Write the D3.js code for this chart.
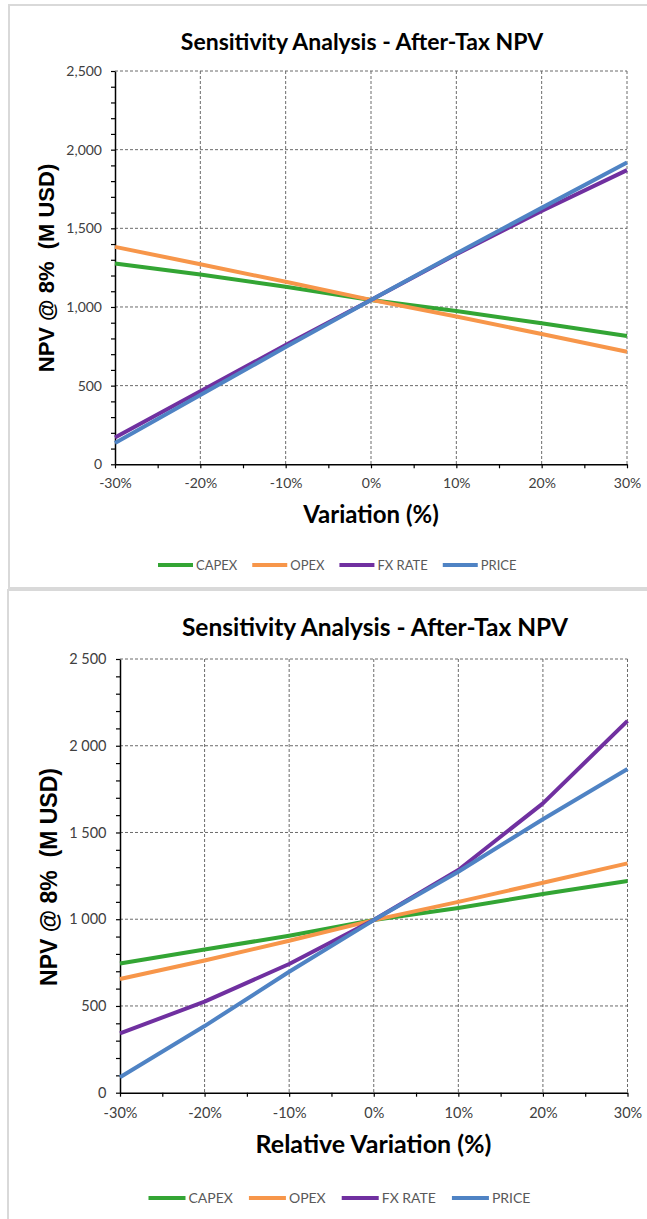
<!DOCTYPE html>
<html>
<head>
<meta charset="utf-8">
<script src="https://cdn.jsdelivr.net/npm/d3@7"></script>
<style>
  body { margin: 0; background: #fff; }
  svg { display: block; }
</style>
</head>
<body>
<script>

// values, one point per 10% step
var variation = [-30, -20, -10, 0, 10, 20, 30];
var seriesNames = ["CAPEX", "OPEX", "FX RATE", "PRICE"];

// top chart
var capexTop = [1277, 1207, 1128, 1045, 974, 896, 815];
var opexTop  = [1382, 1272, 1160, 1045, 940, 828, 715];
var fxTop    = [170, 465, 758, 1045, 1335, 1610, 1870];
var priceTop = [135, 440, 745, 1045, 1340, 1630, 1918];

// bottom chart
var capexBottom = [745, 825, 905, 995, 1065, 1145, 1220];
var opexBottom  = [655, 762, 876, 995, 1100, 1210, 1322];
var fxBottom    = [342, 525, 742, 995, 1284, 1668, 2143];
var priceBottom = [89, 384, 697, 995, 1274, 1576, 1866];

var xTicks = [-30, -20, -10, 0, 10, 20, 30];
var yTicks = [0, 500, 1000, 1500, 2000, 2500];

var colors = ["#33a534", "#f7964a", "#7030a0", "#4f83c4"];

var spaceLocale = d3.formatLocale({decimal: ".", thousands: "\u00a0", grouping: [3], currency: ["", ""]});

var svg = d3.select("body").append("svg")
    .attr("width", 647)
    .attr("height", 1219);

function drawChart(c) {
    var g = svg.append("g");

    var x = d3.scaleLinear().domain([-30, 30]).range([c.left, c.right]);
    var y = d3.scaleLinear().domain([0, 2500]).range([c.bottom, c.top]);

    // frame
    g.append("rect")
        .attr("x", c.frameX).attr("y", c.frameY)
        .attr("width", 700).attr("height", c.frameH)
        .attr("fill", "none")
        .attr("stroke", "#d9d9d9")
        .attr("stroke-width", 2);

    // grid
    g.append("g").selectAll("line")
        .data(yTicks.slice(1))
        .join("line")
        .attr("x1", c.left).attr("x2", c.right)
        .attr("y1", function(d) { return y(d); })
        .attr("y2", function(d) { return y(d); })
        .attr("stroke", "#6b6b6b")
        .attr("stroke-dasharray", "3,2");

    g.append("g").selectAll("line")
        .data(xTicks.slice(1))
        .join("line")
        .attr("y1", c.top).attr("y2", c.bottom)
        .attr("x1", function(d) { return x(d); })
        .attr("x2", function(d) { return x(d); })
        .attr("stroke", "#6b6b6b")
        .attr("stroke-dasharray", "3,2");

    // axes
    var yAxis = g.append("g")
        .attr("transform", "translate(" + c.left + ",0)")
        .call(d3.axisLeft(y)
            .tickValues(d3.range(0, 2501, 100))
            .tickSize(4)
            .tickSizeOuter(0)
            .tickPadding(c.yPad)
            .tickFormat(function(d) { return d % 500 === 0 ? c.yFormat(d) : ""; }));

    var xAxis = g.append("g")
        .attr("transform", "translate(0," + c.bottom + ")")
        .call(d3.axisBottom(x)
            .tickValues(d3.range(-30, 31, 5))
            .tickSize(4)
            .tickSizeOuter(0)
            .tickPadding(c.xPad)
            .tickFormat(function(d) { return d % 10 === 0 ? d + "%" : ""; }));

    [yAxis, xAxis].forEach(function(a) {
        a.attr("font-family", "Lato, 'Open Sans', sans-serif")
         .attr("font-size", c.tickSize);
        a.select(".domain").attr("stroke", "#000").attr("stroke-width", 1.5);
        a.selectAll(".tick line").attr("stroke", "#000").attr("stroke-width", 1.2);
        a.selectAll(".tick text").attr("fill", "#404040");
    });

    // series
    var series = [c.capex, c.opex, c.fx, c.price];
    var line = d3.line()
        .x(function(d, i) { return x(variation[i]); })
        .y(function(d) { return y(d); });

    g.append("g").selectAll("path")
        .data(series)
        .join("path")
        .attr("d", line)
        .attr("fill", "none")
        .attr("stroke", function(d, i) { return colors[i]; })
        .attr("stroke-width", 4)
        .attr("stroke-linejoin", "round");

    // titles
    g.append("text")
        .attr("x", c.titleX).attr("y", c.titleY)
        .attr("text-anchor", "middle")
        .attr("font-family", "Lato, sans-serif")
        .attr("font-weight", "bold")
        .attr("font-size", c.titleSize)
        .attr("fill", "#000")
        .text("Sensitivity Analysis - After-Tax NPV");

    g.append("text")
        .attr("x", c.xTitleX).attr("y", c.xTitleY)
        .attr("text-anchor", "middle")
        .attr("font-family", "Lato, sans-serif")
        .attr("font-weight", "bold")
        .attr("font-size", c.xTitleSize)
        .attr("fill", "#000")
        .text(c.xTitle);

    g.append("text")
        .attr("transform", "translate(" + c.yTitleX + "," + c.yTitleY + ") rotate(-90)")
        .attr("text-anchor", "middle")
        .attr("font-family", "'Liberation Sans', Arial, sans-serif")
        .attr("font-weight", "bold")
        .attr("font-size", c.yTitleSize)
        .attr("fill", "#000")
        .style("white-space", "pre")
        .text("NPV @ 8%  (M USD)");

    // legend
    var lx = c.legendX;
    seriesNames.forEach(function(name, i) {
        g.append("line")
            .attr("x1", lx).attr("x2", lx + c.legendLine)
            .attr("y1", c.legendY).attr("y2", c.legendY)
            .attr("stroke", colors[i])
            .attr("stroke-width", 4);
        var t = g.append("text")
            .attr("x", lx + c.legendLine + 3)
            .attr("y", c.legendY + c.legendFont * 0.36)
            .attr("font-family", "Lato, sans-serif")
            .attr("font-size", c.legendFont)
            .attr("fill", "#595959")
            .text(name);
        lx += c.legendLine + 3 + t.node().getComputedTextLength() + c.legendGap;
    });
}

drawChart({
    frameX: 9, frameY: 5, frameH: 583,
    left: 115, right: 627, top: 71, bottom: 464.3,
    yFormat: d3.format(","), yPad: 9, xPad: 10, tickSize: 14,
    capex: capexTop, opex: opexTop, fx: fxTop, price: priceTop,
    titleX: 362, titleY: 50, titleSize: 23,
    xTitle: "Variation (%)", xTitleX: 371, xTitleY: 523, xTitleSize: 24,
    yTitleX: 54, yTitleY: 268, yTitleSize: 22,
    legendX: 158, legendY: 565, legendLine: 35, legendFont: 13, legendGap: 15
});

drawChart({
    frameX: 8, frameY: 590, frameH: 700,
    left: 120, right: 627.5, top: 659, bottom: 1092.7,
    yFormat: spaceLocale.format(","), yPad: 9.5, xPad: 11, tickSize: 14.5,
    capex: capexBottom, opex: opexBottom, fx: fxBottom, price: priceBottom,
    titleX: 375, titleY: 636, titleSize: 24.5,
    xTitle: "Relative Variation (%)", xTitleX: 373.5, xTitleY: 1153, xTitleSize: 25,
    yTitleX: 57, yTitleY: 877, yTitleSize: 23,
    legendX: 148.5, legendY: 1198, legendLine: 37, legendFont: 14, legendGap: 16
});

</script>
</body>
</html>
